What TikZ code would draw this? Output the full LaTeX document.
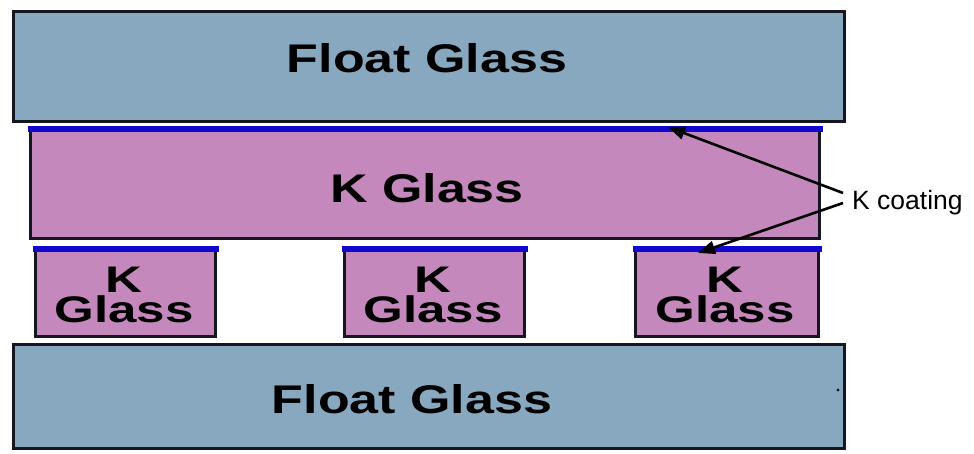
\documentclass[tikz,border=0pt]{standalone}
\usepackage{fontspec}
\usepackage{graphicx}
\setmainfont{Liberation Sans}
\usetikzlibrary{arrows.meta}

\definecolor{floatfill}{RGB}{135,168,191}
\definecolor{kfill}{RGB}{196,136,189}
\definecolor{coatblue}{RGB}{18,8,205}
\definecolor{edgedark}{RGB}{22,22,32}

\tikzset{
  pane/.style={draw=edgedark, line width=3pt, anchor=north west, inner sep=0pt},
  floatpane/.style={pane, fill=floatfill},
  kpane/.style={pane, fill=kfill},
  bigtxt/.style={anchor=base, inner sep=0pt, font=\bfseries\fontsize{40}{40}\selectfont, text=black},
  smalltxt/.style={anchor=base, inner sep=0pt, text height=27pt, text depth=0.5pt,
    font=\bfseries\fontsize{37}{37}\selectfont, text=black},
  pointer/.style={line width=2.6pt, -{Triangle[length=17pt,width=13pt]}},
}

% draws the blue K coating band along the top edge of a pane
\newcommand{\coatband}[1]{%
  \fill[coatblue] ([xshift=-1.5pt,yshift=1.5pt]#1.north west) rectangle ([xshift=1.5pt,yshift=-5pt]#1.north east);}

\begin{document}
\begin{tikzpicture}[x=1pt,y=-1pt]
  \useasboundingbox[fill=white] (0,0) rectangle (974,453);

  % float glass panes
  \node[floatpane, minimum width=831pt, minimum height=110pt] (ftop) at (12,10) {};
  \node[floatpane, minimum width=831pt, minimum height=104pt] (fbot) at (12,343) {};
  \node[bigtxt] (ftoptxt) at (427,72) {\scalebox{1.3}[1]{Float Glass}};
  \node[bigtxt] (fbottxt) at (412,413) {\scalebox{1.3}[1]{Float Glass}};
  \fill[edgedark] (838,390) circle (1.6);

  % large K glass pane
  \node[kpane, minimum width=789pt, minimum height=110pt] (kbig) at (29,127) {};
  \coatband{kbig}
  \node[bigtxt] (kbigtxt) at (427,202) {\scalebox{1.3}[1]{K Glass}};

  % small K glass spacers
  \node[kpane, minimum width=180pt, minimum height=88pt] (ka) at (34,247) {};
  \node[kpane, minimum width=180pt, minimum height=88pt] (kb) at (343,247) {};
  \node[kpane, minimum width=183pt, minimum height=88pt] (kc) at (634,247) {};
  \coatband{ka}
  \coatband{kb}
  \coatband{kc}
  \node[smalltxt] (kak) at (124,292) {\scalebox{1.38}[1]{K}};
  \node[smalltxt] (kag) at (124,322) {\scalebox{1.38}[1]{Glass}};
  \node[smalltxt] (kbk) at (433,292) {\scalebox{1.38}[1]{K}};
  \node[smalltxt] (kbg) at (433,322) {\scalebox{1.38}[1]{Glass}};
  \node[smalltxt] (kck) at (725,292) {\scalebox{1.38}[1]{K}};
  \node[smalltxt] (kcg) at (725,322) {\scalebox{1.38}[1]{Glass}};

  % coating label and pointers
  \node[anchor=base west, inner sep=0pt, font=\fontsize{26.5}{26.5}\selectfont] (lab) at (852,209) {K coating};
  \coordinate (s1) at (843,193);
  \coordinate (s2) at (843,203);
  \coordinate (t1) at (668,127);
  \coordinate (t2) at (698,253);
  \draw[pointer] (s1) -- (t1);
  \draw[pointer] (s2) -- (t2);
\end{tikzpicture}
\end{document}
